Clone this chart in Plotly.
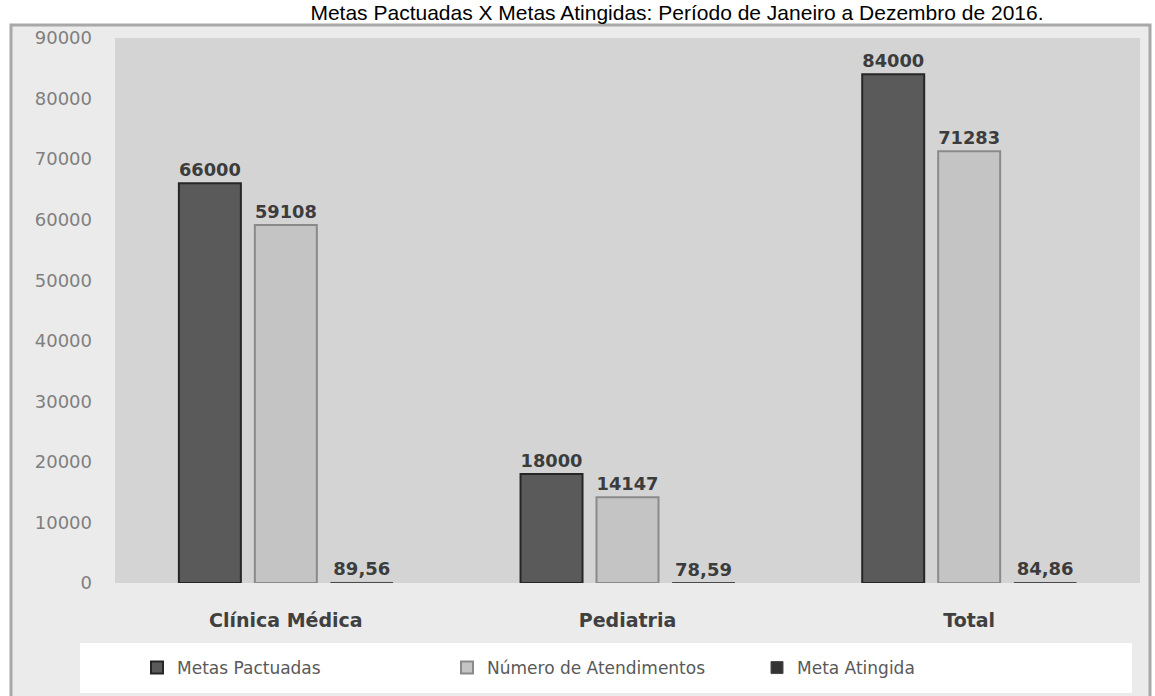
import plotly.graph_objects as go

categories = ["Clínica Médica", "Pediatria", "Total"]
metas_pactuadas = [66000, 18000, 84000]
numero_atendimentos = [59108, 14147, 71283]
meta_atingida = [89.56, 78.59, 84.86]
series_names = ["Metas Pactuadas", "Número de Atendimentos", "Meta Atingida"]
y_ticks = [0, 10000, 20000, 30000, 40000, 50000, 60000, 70000, 80000, 90000]
title_text = "Metas Pactuadas X Metas Atingidas: Período de Janeiro a Dezembro de 2016."

W, H = 1155, 696
L, R, T, B = 115, 15, 38, 113
PW, PH = W - L - R, H - T - B


def px_x(x):
    return (x - L) / PW


def px_y(y):
    return (H - B - y) / PH


label_font = dict(family="DejaVu Sans", size=18, color="#3c3c3c")

fig = go.Figure()
fig.add_trace(go.Bar(
    name=series_names[0], x=categories, y=metas_pactuadas,
    marker=dict(color="#5a5a5a", line=dict(color="#262626", width=2)),
    texttemplate="<b>%{y:d}</b>", textposition="outside", textfont=label_font,
    cliponaxis=False,
))
fig.add_trace(go.Bar(
    name=series_names[1], x=categories, y=numero_atendimentos,
    marker=dict(color="#c4c4c4", line=dict(color="#8a8a8a", width=2)),
    texttemplate="<b>%{y:d}</b>", textposition="outside", textfont=label_font,
    cliponaxis=False,
))
fig.add_trace(go.Bar(
    name=series_names[2], x=categories, y=meta_atingida,
    marker=dict(color="#333333", line=dict(color="#4a4a4a", width=1)),
    texttemplate="<b>%{y:.2f}</b>", textposition="outside", textfont=label_font,
    cliponaxis=False,
))

fig.update_layout(
    width=W, height=H,
    margin=dict(l=L, r=R, t=T, b=B, autoexpand=False),
    paper_bgcolor="white",
    plot_bgcolor="rgba(0,0,0,0)",
    separators=",.",
    barmode="group",
    bargap=0.333,
    bargroupgap=0.184,
    title=dict(text=title_text, x=677 / W, xref="container", xanchor="center",
               y=1 - 13 / H, yref="container", yanchor="middle",
               font=dict(family="Liberation Sans", size=21, color="#000000")),
    showlegend=True,
    legend=dict(orientation="h", x=px_x(137), xanchor="left", y=px_y(668), yanchor="middle",
                bgcolor="rgba(0,0,0,0)", entrywidth=265, entrywidthmode="pixels",
                font=dict(family="DejaVu Sans", size=17, color="#595959"),
                itemclick=False),
    font=dict(family="DejaVu Sans"),
    shapes=[
        dict(type="rect", xref="paper", yref="paper",
             x0=px_x(11), x1=px_x(1150), y0=px_y(698), y1=px_y(25),
             fillcolor="#ebebeb", line=dict(color="#a8a8a8", width=3), layer="below"),
        dict(type="rect", xref="paper", yref="paper",
             x0=0, x1=1, y0=0, y1=1,
             fillcolor="#d4d4d4", line=dict(width=0), layer="below"),
        dict(type="rect", xref="paper", yref="paper",
             x0=px_x(80), x1=px_x(1132), y0=px_y(693), y1=px_y(643),
             fillcolor="white", line=dict(width=0), layer="below"),
    ],
)
fig.update_xaxes(
    showgrid=False, showline=False, ticks="", automargin=False,
    tickfont=dict(family="DejaVu Sans", size=19, color="#404040", weight="bold"),
    ticklabelstandoff=24,
)
fig.update_yaxes(
    range=[0, 90000], tickvals=y_ticks, tickformat="d", automargin=False,
    showgrid=False, zeroline=False, showline=False,
    tickfont=dict(family="DejaVu Sans", size=18, color="#7f7f7f"),
    ticklabelstandoff=22,
)

fig.write_html("out.html", config={"displayModeBar": False},
               post_script="document.body.style.margin='0';")
